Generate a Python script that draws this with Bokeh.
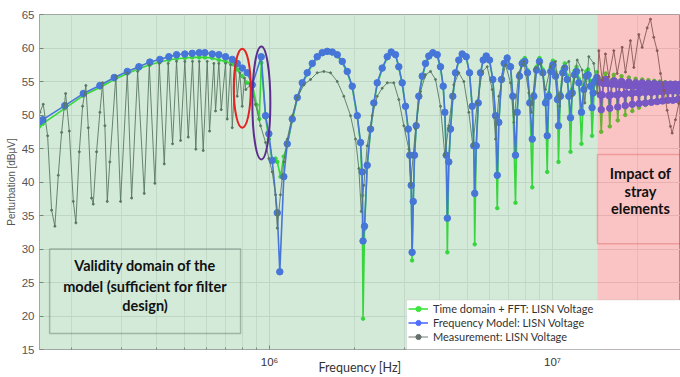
import numpy as np
from bokeh.plotting import figure
from bokeh.models import BoxAnnotation, Label, Legend, LegendItem, FixedTicker, Range1d
from bokeh.embed import file_html
from bokeh.resources import INLINE

# ---------------- data (frequency in MHz, level in dBuV) ----------------
model_freq_mhz = [
    0.1538, 0.158, 0.189, 0.2197, 0.2514, 0.2826, 0.3143, 0.3453, 0.3776, 0.4097,
    0.4407, 0.4692, 0.5018, 0.5331, 0.5644, 0.5906, 0.6273, 0.6620, 0.6991, 0.7383,
    0.7689, 0.8009, 0.8341, 0.8688, 0.9347, 0.9680, 0.9943, 1.022, 1.065, 1.087,
    1.123, 1.155, 1.203, 1.253, 1.305, 1.359, 1.416, 1.474, 1.535, 1.599,
    1.666, 1.735, 1.807, 1.882, 1.960, 2.042, 2.097, 2.126, 2.140, 2.166,
    2.214, 2.275, 2.337, 2.402, 2.501, 2.606, 2.692, 2.788, 2.863, 2.943,
    3.024, 3.091, 3.131, 3.167, 3.190, 3.220, 3.253, 3.298, 3.369, 3.464,
    3.558, 3.655, 3.776, 3.914, 4.020, 4.110, 4.164, 4.212, 4.250, 4.300,
    4.361, 4.443, 4.541, 4.665, 4.796, 4.955, 5.090, 5.203, 5.271, 5.310,
    5.376, 5.464, 5.567, 5.690, 5.831, 5.990, 6.152, 6.290, 6.380, 6.461,
    6.604, 6.751, 6.917, 7.106, 7.240, 7.400, 7.503, 7.645, 7.814, 7.982,
    8.160, 8.314, 8.480, 8.590, 8.782, 8.995, 9.241, 9.447, 9.580, 9.703,
    9.862, 10.03, 10.25, 10.41, 10.50, 10.67, 10.87, 11.05, 11.27, 11.42,
    11.58, 11.74, 11.96, 12.16, 12.39, 12.66, 12.90, 13.16, 13.37, 13.62,
    13.80, 13.92, 14.07,
]
model_dbuv = [
    49.0, 49.3, 51.4, 53.2, 54.4, 55.6, 56.5, 57.2, 57.9, 58.3,
    58.7, 59.0, 59.1, 59.2, 59.3, 59.3, 59.1, 59.0, 58.7, 58.3,
    57.7, 57.0, 56.3, 54.5, 58.7, 49.9, 47.2, 43.2, 35.4, 26.6,
    40.8, 45.7, 49.4, 52.6, 54.8, 56.3, 57.7, 58.7, 59.3, 59.5,
    59.4, 59.0, 58.0, 56.5, 54.3, 49.9, 45.9, 41.5, 31.2, 33.4,
    42.5, 47.9, 51.8, 54.8, 57.0, 58.7, 59.4, 59.0, 57.2, 54.8,
    51.3, 47.9, 44.0, 39.5, 29.5, 37.1, 44.0, 48.4, 52.8, 55.8,
    57.7, 58.8, 59.3, 59.0, 57.2, 54.3, 50.4, 44.0, 34.6, 43.0,
    47.9, 52.8, 56.3, 58.2, 59.1, 58.7, 56.3, 51.3, 45.4, 38.3,
    45.4, 51.8, 56.3, 58.2, 58.8, 58.2, 55.3, 49.9, 41.0, 48.9,
    55.3, 57.7, 58.5, 57.2, 52.8, 44.0, 50.4, 55.8, 57.7, 58.0,
    56.3, 51.8, 46.4, 52.8, 56.7, 58.0, 56.3, 51.8, 46.9, 52.8,
    56.5, 57.5, 55.8, 52.3, 48.4, 52.8, 56.3, 57.0, 55.3, 52.8,
    49.6, 53.3, 56.0, 56.5, 54.8, 50.4, 53.8, 55.8, 56.0, 54.3,
    51.1, 53.3, 55.0,
]
model_hf_freq_mhz = [
    14.34, 14.60, 14.76, 14.87, 14.98, 15.14, 15.40, 15.67, 15.82, 15.94,
    16.06, 16.21, 16.47, 16.74, 16.89, 17.01, 17.13, 17.28, 17.54, 17.81,
    17.96, 18.08, 18.20, 18.35, 18.61, 18.88, 19.03, 19.15, 19.27, 19.42,
    19.68, 19.95, 20.10, 20.22, 20.34, 20.49, 20.75, 21.02, 21.17, 21.29,
    21.41, 21.56, 21.82, 22.09, 22.24, 22.36, 22.48, 22.63, 22.89, 23.16,
    23.31, 23.43, 23.55, 23.70, 23.96, 24.23, 24.38, 24.50, 24.62, 24.77,
    25.03, 25.30, 25.45, 25.57, 25.69, 25.84, 26.10, 26.37, 26.52, 26.64,
    26.76, 26.91, 27.17, 27.44, 27.59, 27.71, 27.83, 27.98, 28.24,
]
model_hf_dbuv = [
    55.6, 54.9, 53.0, 50.8, 53.0, 54.7, 55.3, 54.7, 52.9, 51.0,
    53.0, 54.6, 55.1, 54.6, 53.0, 51.2, 53.1, 54.5, 55.0, 54.5,
    53.1, 51.4, 53.2, 54.4, 54.9, 54.4, 53.2, 51.6, 53.3, 54.4,
    54.8, 54.3, 53.3, 51.7, 53.3, 54.3, 54.8, 54.3, 53.4, 51.8,
    53.4, 54.3, 54.7, 54.2, 53.4, 51.9, 53.4, 54.2, 54.7, 54.2,
    53.5, 52.0, 53.5, 54.2, 54.6, 54.2, 53.5, 52.1, 53.5, 54.2,
    54.6, 54.2, 53.6, 52.2, 53.6, 54.2, 54.6, 54.2, 53.6, 52.2,
    53.6, 54.2, 54.6, 54.2, 53.6, 52.3, 53.6, 54.2, 54.6,
]

fft_freq_mhz = [
    0.1538, 0.158, 0.189, 0.2197, 0.2514, 0.2826, 0.3143, 0.3453, 0.3776, 0.4097,
    0.4407, 0.4692, 0.5018, 0.5331, 0.5644, 0.5906, 0.6273, 0.6620, 0.6991, 0.7383,
    0.7689, 0.8009, 0.8341, 0.8688, 0.900, 0.920, 0.935, 0.968, 0.994, 1.022,
    1.050, 1.065, 1.093, 1.123, 1.155, 1.203, 1.253, 1.305, 1.359, 1.416,
    1.474, 1.535, 1.599, 1.666, 1.735, 1.807, 1.882, 1.960, 2.042, 2.097,
    2.126, 2.140, 2.166, 2.214, 2.275, 2.337, 2.402, 2.501, 2.606, 2.692,
    2.788, 2.863, 2.943, 3.024, 3.091, 3.131, 3.167, 3.190, 3.220, 3.253,
    3.298, 3.369, 3.464, 3.558, 3.655, 3.776, 3.914, 4.020, 4.110, 4.164,
    4.212, 4.250, 4.300, 4.361, 4.443, 4.541, 4.665, 4.796, 4.955, 5.090,
    5.203, 5.271, 5.310, 5.376, 5.464, 5.567, 5.690, 5.831, 5.990, 6.152,
    6.290, 6.380, 6.461, 6.604, 6.751, 6.917, 7.106, 7.240, 7.400, 7.503,
    7.645, 7.814, 7.982, 8.160, 8.314, 8.480, 8.590, 8.782, 8.995, 9.241,
    9.447, 9.580, 9.703, 9.862, 10.03, 10.25, 10.41, 10.50, 10.67, 10.87,
    11.05, 11.27, 11.42, 11.58, 11.74, 11.96, 12.16, 12.39, 12.66, 12.90,
    13.16, 13.37, 13.62, 13.80, 14.07, 14.34, 14.60, 14.87, 15.14, 15.40,
    15.67, 15.94, 16.21, 16.47, 16.74, 17.01, 17.28, 17.54, 17.81, 18.08,
    18.35, 18.61, 18.88, 19.15, 19.42, 19.68, 19.95, 20.22, 20.49, 20.75,
    21.02, 21.29, 21.56, 21.82, 22.09, 22.36, 22.63, 22.89, 23.43, 23.96,
    24.50, 25.03, 25.57, 26.10, 26.64, 27.17, 27.71, 28.24,
]
fft_dbuv = [
    48.3, 48.7, 51.0, 52.9, 54.1, 55.3, 56.2, 56.9, 57.5, 57.9,
    58.2, 58.4, 58.5, 58.6, 58.6, 58.6, 58.5, 58.2, 58.0, 57.6,
    56.8, 55.8, 54.8, 54.6, 51.5, 49.4, 57.8, 49.6, 46.4, 43.2,
    43.5, 43.0, 40.8, 43.8, 45.5, 49.2, 52.4, 54.6, 56.1, 57.5,
    58.5, 59.1, 59.3, 59.2, 58.8, 57.8, 56.3, 54.1, 49.7, 45.7,
    38.0, 19.6, 33.0, 42.3, 47.7, 51.6, 54.6, 56.8, 58.5, 59.2,
    59.0, 57.0, 54.6, 51.1, 47.7, 43.8, 39.3, 28.3, 36.9, 43.8,
    48.2, 52.6, 55.6, 57.5, 58.6, 59.1, 58.8, 57.0, 54.1, 50.2,
    43.8, 29.5, 42.8, 47.7, 52.6, 56.1, 58.1, 59.0, 58.6, 56.2,
    51.2, 45.2, 30.7, 45.2, 51.6, 56.2, 58.2, 58.8, 58.2, 55.2,
    49.8, 36.1, 48.8, 55.3, 57.8, 58.7, 57.4, 52.9, 36.9, 50.6,
    56.1, 58.1, 58.5, 56.7, 52.2, 39.2, 53.2, 57.2, 58.5, 56.8,
    52.3, 41.5, 53.3, 57.1, 58.1, 56.4, 52.8, 43.0, 53.3, 56.9,
    57.7, 55.9, 53.3, 44.5, 53.9, 56.6, 57.2, 55.4, 45.7, 54.4,
    56.5, 56.8, 55.0, 46.9, 54.5, 56.4, 55.5, 47.5, 55.4, 56.2,
    55.3, 48.3, 55.2, 56.0, 55.2, 49.2, 55.0, 55.8, 55.0, 50.0,
    54.9, 55.6, 54.9, 50.6, 54.8, 55.4, 54.8, 51.1, 54.7, 55.3,
    54.7, 51.5, 54.6, 55.2, 54.6, 51.8, 54.5, 55.1, 52.0, 55.0,
    52.2, 54.9, 52.3, 54.8, 52.4, 54.8, 52.5, 54.7,
]

meas_freq_mhz = [
    0.1543, 0.1586, 0.1643, 0.1697, 0.1743, 0.1792, 0.1841, 0.1902, 0.1960, 0.2025,
    0.2068, 0.2126, 0.2184, 0.2243, 0.2288, 0.2350, 0.2382, 0.2447, 0.2514, 0.2570,
    0.2618, 0.2670, 0.2726, 0.2863, 0.2975, 0.3143, 0.3255, 0.3418, 0.3607, 0.3758,
    0.3933, 0.4076, 0.4245, 0.4385, 0.4542, 0.4692, 0.4847, 0.5019, 0.5160, 0.5343,
    0.5489, 0.5644, 0.5829, 0.6023, 0.6137, 0.6355, 0.6444, 0.6618, 0.6750, 0.6991,
    0.7088, 0.7281, 0.7383, 0.7584, 0.7689, 0.7853, 0.8007, 0.8161, 0.8245, 0.8567,
    0.8923, 0.9294, 0.9680, 0.9943, 1.022, 1.050, 1.065, 1.093, 1.123, 1.155,
    1.203, 1.253, 1.322, 1.396, 1.474, 1.555, 1.643, 1.735, 1.830, 1.933,
    2.013, 2.068, 2.109, 2.154, 2.214, 2.306, 2.402, 2.501, 2.606, 2.749,
    2.863, 2.982, 3.106, 3.149, 3.281, 3.417, 3.558, 3.706, 3.860, 4.020,
    4.164, 4.300, 4.479, 4.665, 4.860, 5.062, 5.230, 5.420, 5.645, 5.879,
    6.123, 6.290, 6.461, 6.824, 7.106, 7.299, 7.601, 7.916, 8.246, 8.428,
    8.709, 9.070, 9.447, 9.838, 10.25, 10.59, 10.96, 11.42, 11.74, 12.23,
    12.73, 13.01, 13.44, 13.99, 14.39, 14.58, 14.99, 15.39, 15.81, 16.47,
    16.93, 17.63, 18.11, 18.86, 19.38, 20.18, 20.75, 21.61, 22.20, 22.80,
    23.44, 24.08, 24.74, 25.43, 26.12, 26.48, 27.20, 27.95, 28.34,
]
meas_dbuv = [
    50.4, 51.6, 46.9, 35.8, 33.4, 41.0, 47.4, 53.2, 47.6, 37.1,
    33.9, 44.5, 51.3, 54.4, 48.1, 37.6, 36.7, 44.5, 50.4, 54.8,
    48.4, 37.1, 43.0, 55.8, 37.1, 56.3, 37.6, 56.5, 38.3, 57.5,
    39.8, 57.7, 42.7, 57.7, 45.7, 58.0, 46.2, 58.0, 46.7, 58.0,
    44.9, 58.0, 44.7, 58.0, 47.6, 57.7, 50.6, 57.7, 50.8, 57.7,
    49.4, 57.5, 48.1, 57.2, 52.8, 56.3, 51.3, 55.5, 53.8, 54.5,
    51.6, 48.4, 45.9, 43.5, 41.5, 38.1, 33.1, 38.1, 43.0, 46.4,
    49.9, 52.6, 54.5, 55.3, 56.3, 56.5, 56.3, 55.0, 52.8, 49.9,
    46.4, 42.0, 35.6, 39.5, 45.4, 49.9, 52.8, 54.0, 54.8, 54.8,
    52.3, 48.4, 44.9, 39.5, 47.9, 53.5, 56.0, 56.5, 55.3, 51.3,
    44.0, 48.4, 54.5, 56.3, 55.0, 50.4, 45.4, 51.8, 56.5, 57.2,
    53.8, 46.4, 52.8, 57.5, 54.8, 48.9, 56.3, 58.0, 53.3, 50.4,
    57.0, 57.7, 53.8, 57.2, 58.0, 51.3, 57.2, 58.0, 52.8, 58.2,
    56.7, 51.8, 58.7, 57.7, 53.3, 59.6, 55.2, 59.1, 55.7, 59.6,
    56.2, 60.1, 56.4, 61.1, 57.1, 62.0, 60.1, 63.0, 64.3, 61.6,
    59.6, 56.2, 53.7, 50.7, 48.3, 47.3, 49.3, 51.7, 52.7,
]

x_ticks_hz = [1e6, 1e7]
x_tick_labels = ["10\u2076", "10\u2077"]
x_minor_hz = [2e5, 3e5, 4e5, 5e5, 6e5, 7e5, 8e5, 9e5,
              2e6, 3e6, 4e6, 5e6, 6e6, 7e6, 8e6, 9e6, 2e7]
y_ticks = [15, 20, 25, 30, 35, 40, 45, 50, 55, 60, 65]

stray_start_hz = 14.42e6
legend_labels = ["Time domain + FFT: LISN Voltage",
                 "Frequency Model: LISN Voltage",
                 "Measurement: LISN Voltage"]
validity_lines = ["Validity domain of the", "model (sufficient for filter", "design)"]
impact_lines = ["Impact of", "stray", "elements"]

# ---------------- figure ----------------
MHZ = 1e6
model_f = np.array(model_freq_mhz + model_hf_freq_mhz) * MHZ
model_y = np.array(model_dbuv + model_hf_dbuv)
fft_f = np.array(fft_freq_mhz) * MHZ
fft_y = np.array(fft_dbuv)
meas_f = np.array(meas_freq_mhz) * MHZ
meas_y = np.array(meas_dbuv)

p = figure(width=680, height=377, x_axis_type="log",
           x_range=Range1d(0.1538e6, 28.34e6), y_range=Range1d(15, 65),
           output_backend="svg", toolbar_location=None,
           min_border_left=39, min_border_right=0, min_border_top=14, min_border_bottom=24)
p.background_fill_color = "white"
p.border_fill_color = "white"
p.outline_line_color = "#a8a8a8"

GREEN = "#3ce63c"
BLUE = "#506eff"
GRAY = "#66706a"

g_line = p.line(fft_f, fft_y, line_color=GREEN, line_width=1.6)
g_pts = p.scatter(fft_f, fft_y, size=3.5, color=GREEN)
b_line = p.line(model_f, model_y, line_color=BLUE, line_width=1.6)
b_pts = p.scatter(model_f, model_y, size=6.5, fill_color=BLUE, line_color=BLUE)
m_line = p.line(meas_f, meas_y, line_color=GRAY, line_width=0.9)
m_pts = p.scatter(meas_f, meas_y, size=2, color=GRAY)

# axes
p.xaxis.ticker = FixedTicker(ticks=x_ticks_hz, minor_ticks=x_minor_hz)
p.xaxis.major_label_overrides = dict(zip(x_ticks_hz, x_tick_labels))
p.yaxis.ticker = FixedTicker(ticks=y_ticks)
for ax in (p.xaxis[0], p.yaxis[0]):
    ax.axis_line_color = "#a8a8a8"
    ax.major_tick_line_color = "#888888"
    ax.minor_tick_line_color = "#888888"
    ax.major_tick_in = 4
    ax.major_tick_out = 0
    ax.minor_tick_in = 2
    ax.minor_tick_out = 0
    ax.major_label_text_font = "Liberation Sans"
    ax.major_label_text_font_size = "11.5px"
    ax.major_label_text_color = "#555555"
p.yaxis.minor_tick_line_color = None
p.yaxis.major_label_standoff = 5
p.xaxis.major_label_standoff = 6
p.xaxis.major_label_text_color = "#333333"

p.yaxis.axis_label = "Perturbation [dB\u00b5V]"
p.yaxis.axis_label_text_font = "Liberation Sans"
p.yaxis.axis_label_text_font_size = "10px"
p.yaxis.axis_label_text_font_style = "normal"
p.yaxis.axis_label_text_color = "#555555"
p.yaxis.axis_label_standoff = 2

p.xaxis.axis_label = "Frequency [Hz]"
p.xaxis.axis_label_text_font = "Lato"
p.xaxis.axis_label_text_font_size = "12.5px"
p.xaxis.axis_label_text_font_style = "normal"
p.xaxis.axis_label_text_color = "#333333"
p.xaxis.axis_label_standoff = -11

p.xgrid.grid_line_color = "#e6e6e6"
p.xgrid.minor_grid_line_color = "#ececec"
p.ygrid.grid_line_color = "#e6e6e6"

# shaded domains (drawn above the curves, as a tint)
p.add_layout(BoxAnnotation(right=stray_start_hz, fill_color=(35, 150, 65), fill_alpha=0.2,
                           line_alpha=0))
p.add_layout(BoxAnnotation(left=stray_start_hz, fill_color=(235, 19, 19), fill_alpha=0.25,
                           line_alpha=0))

# text boxes
p.add_layout(BoxAnnotation(left=0.167e6, right=0.790e6, bottom=17.4, top=30.0,
                           fill_alpha=0, line_color="#2b3a2f", line_width=1.5))
p.add_layout(BoxAnnotation(left=stray_start_hz, bottom=30.8, top=44.1,
                           fill_alpha=0, line_color="#d63a3a", line_width=1.5))
for txt, yy in zip(validity_lines, [27.6, 24.4, 21.6]):
    p.add_layout(Label(x=0.363e6, y=yy, text=txt, text_align="center", text_baseline="middle",
                       text_font="Lato", text_font_style="bold", text_font_size="14.5px",
                       text_color="#111111"))
for txt, yy in zip(impact_lines, [41.2, 38.6, 36.0]):
    p.add_layout(Label(x=20.46e6, y=yy, text=txt, text_align="center", text_baseline="middle",
                       text_font="Lato", text_font_style="bold", text_font_size="14.5px",
                       text_color="#111111"))

# highlight ellipses
p.ellipse(x=[0.8009e6, 0.9355e6], y=[54.0, 51.8], width=[17, 18], height=[79, 113],
          width_units="screen", height_units="screen", fill_color=None,
          line_color=["#e52222", "#5b2d8e"], line_width=2, level="overlay")

# legend
p.add_layout(BoxAnnotation(left=3.05e6, bottom=15, top=22.4, fill_color="white", fill_alpha=1,
                           line_color="#b5b5b5", line_width=1))
legend = Legend(items=[LegendItem(label=legend_labels[0], renderers=[g_line, g_pts]),
                       LegendItem(label=legend_labels[1], renderers=[b_line, b_pts]),
                       LegendItem(label=legend_labels[2], renderers=[m_line, m_pts])],
                location=(364, 1), padding=5, spacing=1, margin=0,
                glyph_width=20, glyph_height=13, label_height=13, label_standoff=5,
                label_text_font="Lato", label_text_font_size="11px", label_text_color="#333333",
                background_fill_alpha=0, border_line_alpha=0)
p.add_layout(legend)

open("out.html", "w").write(file_html(p, INLINE))
